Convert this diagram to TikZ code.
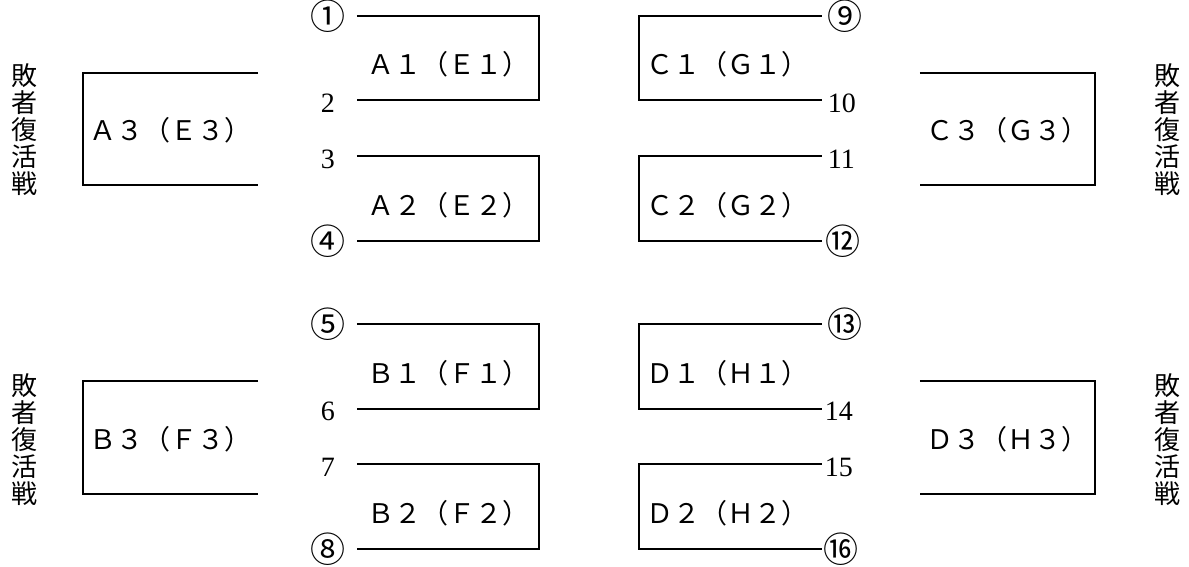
\documentclass[tikz,border=0pt]{standalone}
\usepackage{fontspec}
\setmainfont{Liberation Serif}
\newfontfamily\jpfont{Noto Sans CJK JP}
\usetikzlibrary{positioning}
\tikzset{
  linea/.style={
    draw=black,
    line width=2pt
  },
  llave/.style={
    minimum width=182pt,
    minimum height=84pt,
    inner xsep=7pt,
    text height=34pt,
    text depth=0pt,
    font=\jpfont\fontsize{27}{30}\selectfont
  },
  llaveder/.style={
    llave,
    text width=168pt,
    align=left
  },
  cuadro/.style={
    minimum width=175pt,
    minimum height=112pt,
    text height=26pt,
    text depth=2pt,
    font=\jpfont\fontsize{27}{30}\selectfont
  },
  numero/.style={
    inner sep=0pt,
    yshift=-3pt,
    font=\fontsize{28}{30}\selectfont
  },
  circulo/.style={
    inner sep=0pt,
    font=\jpfont\fontsize{35}{36}\selectfont
  },
  vertical/.style={
    inner sep=0pt,
    align=center,
    font=\jpfont\fontsize{26}{27}\selectfont
  }
}
\begin{document}
\begin{tikzpicture}[x=1pt,y=-1pt]
\useasboundingbox (0,0) rectangle (1189,567);
% bloque superior
\node[vertical] (rep1) at (25,129.5) {敗\\者\\復\\活\\戦};
\node[cuadro] (a3) at (170.5,129) {Ａ３（Ｅ３）};
\node[llave] (a1) at (448,58) {Ａ１（Ｅ１）};
\node[llave] (a2) at (448,198.5) {Ａ２（Ｅ２）};
\node[llaveder] (c1) at (730.5,58) {Ｃ１（Ｇ１）};
\node[llaveder] (c2) at (730.5,198.5) {Ｃ２（Ｇ２）};
\node[cuadro] (c3) at (1007.5,129) {Ｃ３（Ｇ３）};
\node[vertical] (rep2) at (1167,129.5) {敗\\者\\復\\活\\戦};
\node[circulo] (n1) at ([xshift=-29pt]a1.north west) {①};
\node[numero] (n2) at ([xshift=-29pt]a1.south west) {2};
\node[numero] (n3) at ([xshift=-29pt]a2.north west) {3};
\node[circulo] (n4) at ([xshift=-29pt]a2.south west) {④};
\node[circulo,anchor=west] (n9) at ([xshift=6pt]c1.north east) {⑨};
\node[numero,anchor=west] (n10) at ([xshift=6pt]c1.south east) {10};
\node[numero,anchor=west] (n11) at ([xshift=6pt]c2.north east) {11};
\node[circulo,anchor=west] (n12) at ([xshift=4pt]c2.south east) {⑫};
% bloque inferior
\node[vertical] (rep3) at (25,440) {敗\\者\\復\\活\\戦};
\node[cuadro] (b3) at (170.5,437.5) {Ｂ３（Ｆ３）};
\node[llave] (b1) at (448,366.5) {Ｂ１（Ｆ１）};
\node[llave] (b2) at (448,506.5) {Ｂ２（Ｆ２）};
\node[llaveder] (d1) at (730.5,366.5) {Ｄ１（Ｈ１）};
\node[llaveder] (d2) at (730.5,506.5) {Ｄ２（Ｈ２）};
\node[cuadro] (d3) at (1007.5,437.5) {Ｄ３（Ｈ３）};
\node[vertical] (rep4) at (1167,440) {敗\\者\\復\\活\\戦};
\node[circulo] (n5) at ([xshift=-29pt]b1.north west) {⑤};
\node[numero] (n6) at ([xshift=-29pt]b1.south west) {6};
\node[numero] (n7) at ([xshift=-29pt]b2.north west) {7};
\node[circulo] (n8) at ([xshift=-29pt]b2.south west) {⑧};
\node[circulo,anchor=west] (n13) at ([xshift=6pt]d1.north east) {⑬};
\node[numero,anchor=west] (n14) at ([xshift=3pt]d1.south east) {14};
\node[numero,anchor=west] (n15) at ([xshift=3pt]d2.north east) {15};
\node[circulo,anchor=west] (n16) at ([xshift=2pt]d2.south east) {⑯};
% llaves
\draw[linea] (a1.north west) -| (a1.south east) -- (a1.south west);
\draw[linea] (a2.north west) -| (a2.south east) -- (a2.south west);
\draw[linea] (b1.north west) -| (b1.south east) -- (b1.south west);
\draw[linea] (b2.north west) -| (b2.south east) -- (b2.south west);
\draw[linea] (c1.north east) -| (c1.south west) -- (c1.south east);
\draw[linea] (c2.north east) -| (c2.south west) -- (c2.south east);
\draw[linea] (d1.north east) -| (d1.south west) -- (d1.south east);
\draw[linea] (d2.north east) -| (d2.south west) -- (d2.south east);
\draw[linea] (a3.north east) -| (a3.south west) -- (a3.south east);
\draw[linea] (b3.north east) -| (b3.south west) -- (b3.south east);
\draw[linea] (c3.north west) -| (c3.south east) -- (c3.south west);
\draw[linea] (d3.north west) -| (d3.south east) -- (d3.south west);
\end{tikzpicture}
\end{document}
